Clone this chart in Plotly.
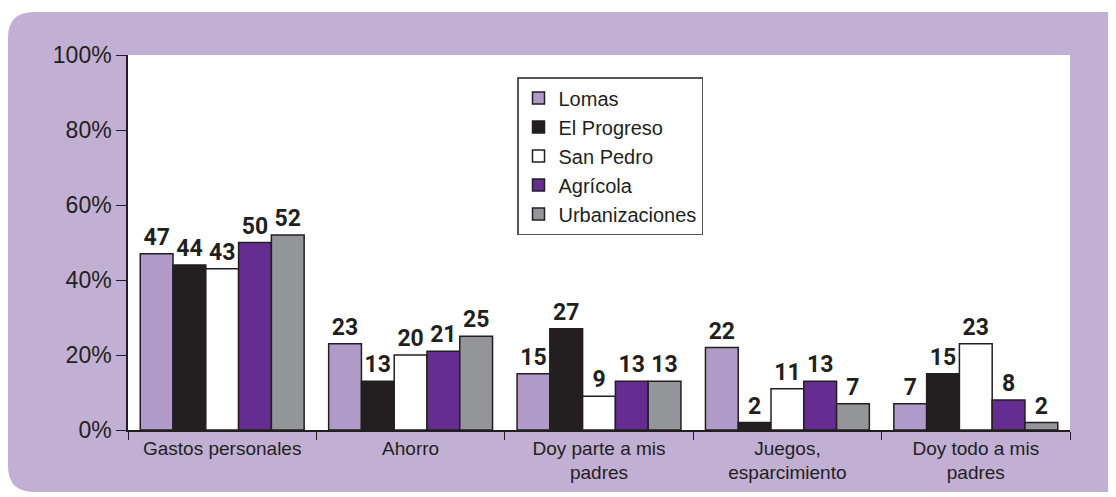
import plotly.graph_objects as go

INK = "#231F20"
LAVENDER_BG = "#C1AFD4"
LOMAS = "#B09BC8"
PROGRESO = "#231F20"
SAN_PEDRO = "#FFFFFF"
AGRICOLA = "#652D90"
URBAN = "#939598"

categories = [
    "Gastos personales",
    "Ahorro",
    "Doy parte a mis<br>padres",
    "Juegos,<br>esparcimiento",
    "Doy todo a mis<br>padres",
]
lomas = [47, 23, 15, 22, 7]
el_progreso = [44, 13, 27, 2, 15]
san_pedro = [43, 20, 9, 11, 23]
agricola = [50, 21, 13, 13, 8]
urbanizaciones = [52, 25, 13, 7, 2]
y_ticks = [0, 20, 40, 60, 80, 100]
y_labels = ["0%", "20%", "40%", "60%", "80%", "100%"]

series = [
    ("Lomas", lomas, LOMAS),
    ("El Progreso", el_progreso, PROGRESO),
    ("San Pedro", san_pedro, SAN_PEDRO),
    ("Agrícola", agricola, AGRICOLA),
    ("Urbanizaciones", urbanizaciones, URBAN),
]

# page body has an 8px margin, so the figure is drawn at (8, 8)
OFF = 8
W, H = 1116 - OFF, 497 - OFF
L, R, T, B = 128 - OFF, 1116 - 1070, 55 - OFF, 497 - 430
PW, PH = W - L - R, H - T - B


def px_x(v):
    return (v - OFF - L) / PW


def px_y(v):
    return (H - B - (v - OFF)) / PH


fig = go.Figure()
for name, values, color in series:
    fig.add_trace(go.Bar(
        name=name,
        x=categories,
        y=values,
        marker={"color": color, "line": {"color": INK, "width": 1.5}},
        text=values,
        textposition="outside",
        textfont={"family": "Roboto, sans-serif", "size": 23, "color": INK, "weight": "bold"},
        cliponaxis=False,
    ))

# lavender rounded card behind everything, then white plot area
x0, x1, y0, y1, rad = 8, 1140, 12, 492, 26
path = (
    f"M {px_x(x0 + rad)},{px_y(y0)} L {px_x(x1)},{px_y(y0)} L {px_x(x1)},{px_y(y1)} "
    f"L {px_x(x0 + rad)},{px_y(y1)} Q {px_x(x0)},{px_y(y1)} {px_x(x0)},{px_y(y1 - rad)} "
    f"L {px_x(x0)},{px_y(y0 + rad)} Q {px_x(x0)},{px_y(y0)} {px_x(x0 + rad)},{px_y(y0)} Z"
)
fig.add_shape(type="path", path=path, xref="paper", yref="paper",
              fillcolor=LAVENDER_BG, line={"width": 0}, layer="below")
fig.add_shape(type="rect", xref="paper", yref="paper", x0=0, x1=1, y0=0, y1=1,
              fillcolor="white", line={"width": 0}, layer="below")

fig.update_layout(
    width=W,
    height=H,
    margin={"l": L, "r": R, "t": T, "b": B},
    paper_bgcolor="white",
    plot_bgcolor="white",
    font={"family": "Liberation Sans, Arial, sans-serif", "color": INK},
    barmode="group",
    bargap=0.13,
    bargroupgap=0,
    legend={
        "x": px_x(517),
        "y": px_y(77),
        "xanchor": "left",
        "yanchor": "top",
        "bgcolor": "white",
        "bordercolor": "#555555",
        "borderwidth": 1.5,
        "font": {"size": 20, "color": INK},
        "tracegroupgap": 0,
        "itemwidth": 30,
    },
)
fig.update_xaxes(
    showline=True,
    linecolor=INK,
    linewidth=1.5,
    ticks="outside",
    tickson="boundaries",
    ticklen=8,
    tickcolor=INK,
    tickfont={"size": 19, "color": INK},
    showgrid=False,
)
fig.update_yaxes(
    range=[0, 100],
    tickvals=y_ticks,
    ticktext=y_labels,
    showline=True,
    linecolor=INK,
    linewidth=1.5,
    ticks="outside",
    ticklen=10,
    tickcolor=INK,
    tickfont={"size": 23, "color": INK},
    showgrid=False,
    zeroline=False,
)

fig.write_html("out.html")
